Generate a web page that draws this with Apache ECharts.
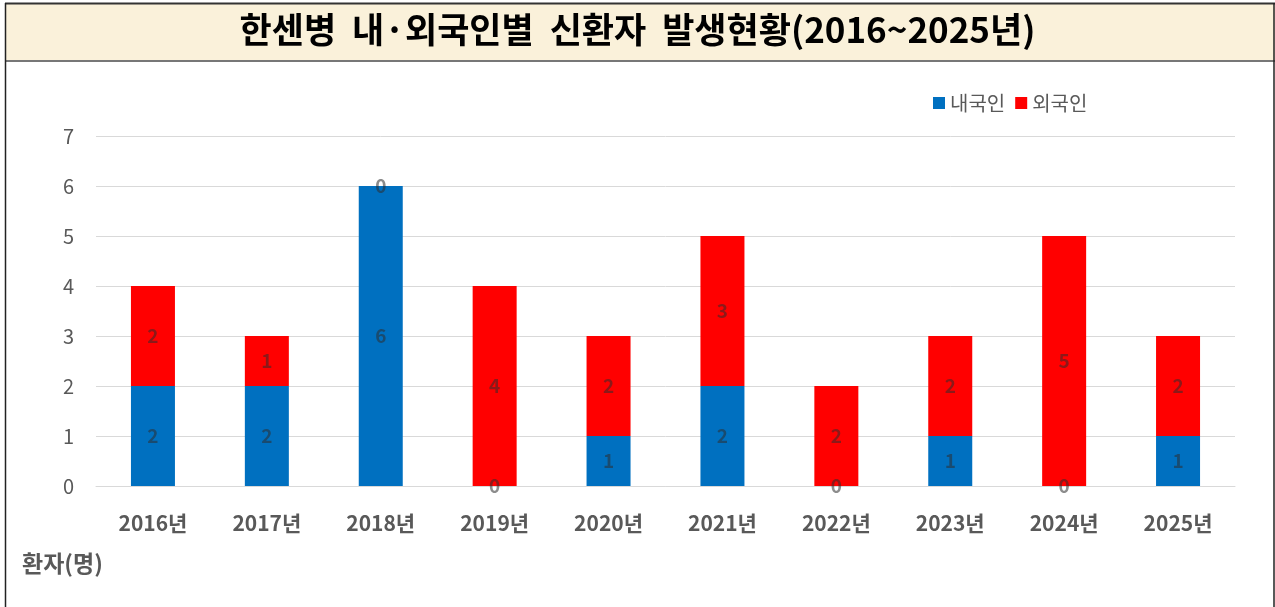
<!DOCTYPE html>
<html>
<head>
<meta charset="utf-8">
<script src="https://cdn.jsdelivr.net/npm/echarts@6/dist/echarts.min.js"></script>
<style>
    html, body { margin: 0; padding: 0; background: #fff; }
    #chart { width: 1275px; height: 607px; }
</style>
</head>
<body>
<div id="chart"></div>
<script>
    // 연도별 신환자 수
    const years = ['2016년', '2017년', '2018년', '2019년', '2020년', '2021년', '2022년', '2023년', '2024년', '2025년'];
    const domestic = [2, 2, 6, 0, 1, 2, 0, 1, 0, 1];
    const foreign = [2, 1, 0, 4, 2, 3, 2, 2, 5, 2];
    const yTicks = [0, 1, 2, 3, 4, 5, 6, 7];

    const font = '"Noto Sans CJK KR", "Noto Sans", sans-serif';
    const labelStyle = {
        show: true,
        position: 'inside',
        fontSize: 19,
        fontWeight: 'bold',
        fontFamily: font,
        color: 'rgba(45,45,45,0.55)'
    };

    let chart = echarts.init(document.getElementById('chart'));
    chart.setOption({
        animation: false,
        textStyle: {fontFamily: font},
        title: {
            text: '한센병  내·외국인별  신환자  발생현황(2016~2025년)',
            left: 'center',
            top: 7,
            textStyle: {
                fontSize: 35,
                fontWeight: 'bold',
                color: '#000',
                fontFamily: font
            }
        },
        graphic: [
            // 제목 박스
            {
                type: 'rect',
                z: -1,
                shape: {x: 5, y: 3, width: 1275, height: 58},
                style: {fill: '#faf1da', stroke: null}
            },
            {
                type: 'line',
                shape: {x1: 5, y1: 3.5, x2: 1275, y2: 3.5},
                style: {stroke: '#333', lineWidth: 2}
            },
            {
                type: 'line',
                shape: {x1: 5, y1: 61, x2: 1275, y2: 61},
                style: {stroke: '#777', lineWidth: 2}
            },
            {
                type: 'line',
                shape: {x1: 5.5, y1: 3, x2: 5.5, y2: 607},
                style: {stroke: '#222', lineWidth: 1.5}
            },
            {
                type: 'line',
                shape: {x1: 1274, y1: 3, x2: 1274, y2: 607},
                style: {stroke: '#222', lineWidth: 1.5}
            },
            {
                type: 'text',
                left: 22,
                top: 552,
                style: {
                    text: '환자(명)',
                    fontSize: 23,
                    fontWeight: 'bold',
                    fill: '#595959',
                    fontFamily: font
                }
            }
        ],
        legend: {
            left: 928,
            top: 88,
            icon: 'rect',
            itemWidth: 12,
            itemHeight: 12,
            itemGap: 10,
            textStyle: {fontSize: 20, color: '#595959', fontFamily: font},
            data: ['내국인', '외국인']
        },
        grid: {left: 96, right: 40, top: 136, bottom: 121},
        xAxis: {
            type: 'category',
            data: years,
            axisLine: {show: true, lineStyle: {color: '#d9d9d9'}},
            axisTick: {show: false},
            axisLabel: {
                margin: 27,
                fontSize: 21,
                fontWeight: 'bold',
                color: '#595959',
                fontFamily: font
            }
        },
        yAxis: {
            type: 'value',
            min: yTicks[0],
            max: yTicks[yTicks.length - 1],
            interval: 1,
            axisLine: {show: false},
            axisTick: {show: false},
            splitLine: {lineStyle: {color: '#d9d9d9'}},
            axisLabel: {
                margin: 22,
                fontSize: 20,
                color: '#595959',
                fontFamily: font
            }
        },
        series: [
            {
                name: '내국인',
                type: 'bar',
                stack: 'total',
                barWidth: 44,
                itemStyle: {color: '#0070c0'},
                label: labelStyle,
                data: domestic
            },
            {
                name: '외국인',
                type: 'bar',
                stack: 'total',
                barWidth: 44,
                itemStyle: {color: '#ff0000'},
                label: labelStyle,
                data: foreign
            }
        ]
    });
</script>
</body>
</html>
